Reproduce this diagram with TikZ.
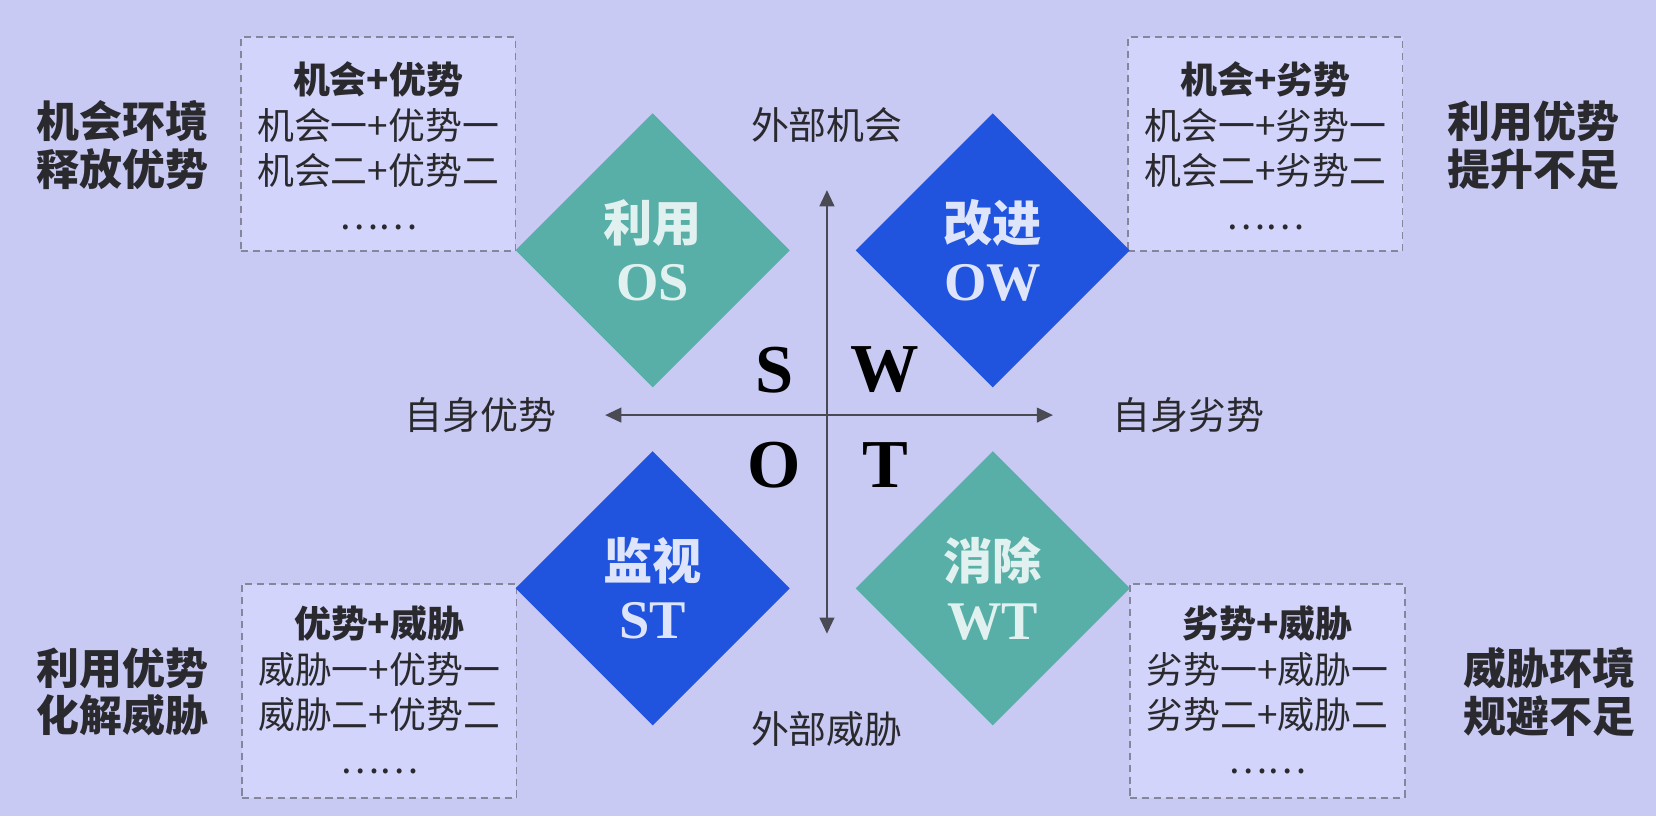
\documentclass[tikz,border=0pt]{standalone}
\usepackage{fontspec}
\setmainfont{Liberation Serif}
\newfontfamily\cjk{Noto Sans CJK SC}
\usetikzlibrary{shapes.geometric,arrows.meta}
\definecolor{bgc}{HTML}{C9CAF4}
\definecolor{boxfill}{HTML}{D3D4FB}
\definecolor{dashc}{HTML}{85869A}
\definecolor{tealc}{HTML}{57AFA7}
\definecolor{bluec}{HTML}{2054DE}
\definecolor{txt}{HTML}{2A2A2E}
\definecolor{axisc}{HTML}{4A4A55}
\begin{document}
\begin{tikzpicture}[x=0.01056cm,y=-0.01056cm,
  quad/.style={diamond,aspect=1,minimum width=2.746cm,minimum height=2.746cm,inner sep=0pt,align=center,
    font=\fontsize{14}{17}\selectfont},
  tealq/.style={quad,fill=tealc,text=white!82!tealc},
  blueq/.style={quad,fill=bluec,text=white!85!bluec},
  dbox/.style={draw=dashc,dash pattern=on 2pt off 1.4pt,line width=0.45pt,fill=boxfill,minimum width=2.746cm,minimum height=2.14cm,inner sep=0pt},
  boxtxt/.style={align=center,inner sep=0pt,anchor=north,text=txt,font=\cjk\fontsize{10.5}{12.9}\selectfont},
  side/.style={align=center,inner sep=0pt,text=txt,font=\cjk\bfseries\fontsize{12.2}{13.6}\selectfont},
  axlab/.style={inner sep=0pt,text=txt,font=\cjk\fontsize{10.8}{13}\selectfont},
  letter/.style={inner sep=0pt,text=black,font=\bfseries\fontsize{19.5}{20}\selectfont},
  axis/.style={draw=axisc,line width=0.55pt,{Triangle[length=4.6pt,width=4.2pt]}-{Triangle[length=4.6pt,width=4.2pt]}}
]
\fill[bgc] (0,0) rectangle (1568,773);
\useasboundingbox (0,0) rectangle (1568,773);

% dashed boxes
\node[dbox] (bTL) at (358,136.5) {};
\node[dbox] (bTR) at (1198,136.5) {};
\node[dbox] (bBL) at (359,654) {};
\node[dbox] (bBR) at (1200,654) {};

\node[boxtxt] (tTL) at (358,58) {{\bfseries 机会+优势}\\机会一+优势一\\机会二+优势二\\[0pt]……};
\node[boxtxt] (tTR) at (1198,58) {{\bfseries 机会+劣势}\\机会一+劣势一\\机会二+劣势二\\[0pt]……};
\node[boxtxt] (tBL) at (359,573) {{\bfseries 优势+威胁}\\威胁一+优势一\\威胁二+优势二\\[0pt]……};
\node[boxtxt] (tBR) at (1200,573) {{\bfseries 劣势+威胁}\\劣势一+威胁一\\劣势二+威胁二\\[0pt]……};

% side labels
\node[side] (sTL) at (116,137.5) {机会环境\\释放优势};
\node[side] (sTR) at (1452,137.5) {利用优势\\提升不足};
\node[side] (sBL) at (116,655) {利用优势\\化解威胁};
\node[side] (sBR) at (1467,655) {威胁环境\\规避不足};

% diamonds
\node[tealq] (OS) at (618,237) {{\cjk\bfseries 利用}\\{\bfseries\fontsize{15.5}{17}\selectfont OS}};
\node[blueq] (OW) at (940,237) {{\cjk\bfseries 改进}\\{\bfseries\fontsize{15.5}{17}\selectfont OW}};
\node[blueq] (ST) at (618,557) {{\cjk\bfseries 监视}\\{\bfseries\fontsize{15.5}{17}\selectfont ST}};
\node[tealq] (WT) at (940,557) {{\cjk\bfseries 消除}\\{\bfseries\fontsize{15.5}{17}\selectfont WT}};

% axes
\coordinate (ytop) at (783,180);
\coordinate (ybot) at (783,600);
\coordinate (xl) at (573,393);
\coordinate (xr) at (997,393);
\draw[axis] (ybot) -- (ytop);
\draw[axis] (xl) -- (xr);

\node[axlab] (lTop) at (783,118) {外部机会};
\node[axlab] (lBot) at (783,690) {外部威胁};
\node[axlab] (lLeft) at (455,393) {自身优势};
\node[axlab] (lRight) at (1125,393) {自身劣势};

% SWOT letters
\node[letter] (S) at (733,350) {S};
\node[letter] (W) at (838,350) {W};
\node[letter] (O) at (733,440) {O};
\node[letter] (T) at (838,440) {T};
\end{tikzpicture}
\end{document}
